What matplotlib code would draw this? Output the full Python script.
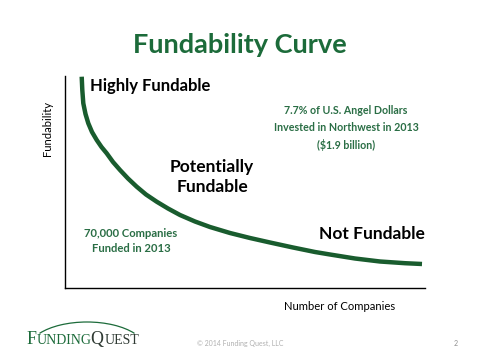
import matplotlib
matplotlib.use("Agg")
import matplotlib.pyplot as plt
from matplotlib.patches import Arc

# Data (curve; x = companies, y = fundability, arbitrary units)
curve_x = [16.7, 17.3, 18.3, 20.5, 23.3, 27.0, 31.7, 36.5, 41.7, 48.0, 55.0, 63.0, 71.7,
           81.0, 91.7, 103.0, 115.0, 130.0, 145.0, 165.0, 185.0, 205.0, 228.0, 250.0,
           265.0, 290.0, 315.0, 340.0, 357.0]
curve_y = [211.3, 198.0, 184.7, 174.0, 164.7, 156.0, 148.0, 141.0, 134.7, 126.0, 118.0,
           109.5, 101.3, 93.5, 86.3, 79.5, 73.0, 66.5, 61.0, 55.0, 50.0, 45.5, 40.5, 36.0,
           33.5, 29.5, 26.5, 24.8, 24.0]

title = "Fundability Curve"
xlabel = "Number of Companies"
ylabel = "Fundability"

GREEN = "#1c6b3a"
CURVE = "#195c2e"
TGREEN = "#2a6e45"

FONT = "Lato"

fig = plt.figure(figsize=(4.8, 3.6), dpi=100)
fig.patch.set_facecolor("white")
W, H = 480, 360

def fx(px):
    return px / W

def fy(py):
    return 1 - py / H

ax = fig.add_axes([fx(65), fy(288), fx(425) - fx(65), fy(76) - fy(288)])
ax.plot(curve_x, curve_y, color=CURVE, lw=3.2, solid_capstyle="butt",
        solid_joinstyle="round")
ax.set_xlim(0, 360)
ax.set_ylim(0, 212)
ax.set_xticks([])
ax.set_yticks([])
for s in ["top", "right"]:
    ax.spines[s].set_visible(False)
ax.spines["left"].set_linewidth(1.0)
ax.spines["bottom"].set_linewidth(1.0)
ax.patch.set_alpha(0)

fig.text(fx(240), fy(45), title, ha="center", va="center", fontsize=19.5,
         fontweight="bold", color=GREEN, family=FONT)

fig.text(fx(90), fy(86), "Highly Fundable", ha="left", va="center", fontsize=12,
         fontweight="bold", color="black", family=FONT)
fig.text(fx(346), fy(128), "7.7% of U.S. Angel Dollars\nInvested in Northwest in 2013\n($1.9 billion)",
         ha="center", va="center", fontsize=7.7, fontweight="bold", color=TGREEN,
         family=FONT, linespacing=1.62)
fig.text(fx(212), fy(177), "Potentially\nFundable", ha="center", va="center", fontsize=12.5,
         fontweight="bold", color="black", family=FONT, linespacing=1.25)
fig.text(fx(131), fy(241), "70,000 Companies\nFunded in 2013", ha="center", va="center",
         fontsize=8.1, fontweight="bold", color=TGREEN, family=FONT, linespacing=1.35)
fig.text(fx(425), fy(234), "Not Fundable", ha="right", va="center", fontsize=12.5,
         fontweight="bold", color="black", family=FONT)
fig.text(fx(340), fy(306), xlabel, ha="center", va="center", fontsize=8.1,
         color="black", family=FONT)
fig.text(fx(47), fy(128), ylabel, ha="center", va="center", fontsize=8.1,
         color="black", family=FONT, rotation=90)

# Footer logo
fig.text(fx(27), fy(344), "F", ha="left", va="baseline", fontsize=13, color=GREEN,
         family="Liberation Serif")
fig.text(fx(37), fy(344), "UNDING", ha="left", va="baseline", fontsize=10, color=GREEN,
         family="Liberation Serif")
fig.text(fx(90.5), fy(344), "Q", ha="left", va="baseline", fontsize=13, color="#2f3a33",
         family="Liberation Serif")
fig.text(fx(104.5), fy(344), "UEST", ha="left", va="baseline", fontsize=10, color="#2f3a33",
         family="Liberation Serif")
arc = Arc((fx(87), fy(350)), fx(118), (fy(322) - fy(350)) * 2, theta1=25, theta2=155,
          transform=fig.transFigure, color=GREEN, lw=0.9)
fig.add_artist(arc)
fig.text(fx(240), fy(343), "© 2014 Funding Quest, LLC", ha="center", va="center",
         fontsize=5, color="#b0b0b0", family=FONT)
fig.text(fx(456), fy(343), "2", ha="center", va="center", fontsize=5, color="#909090",
         family=FONT)

fig.savefig("out.png", dpi=100, facecolor="white")
